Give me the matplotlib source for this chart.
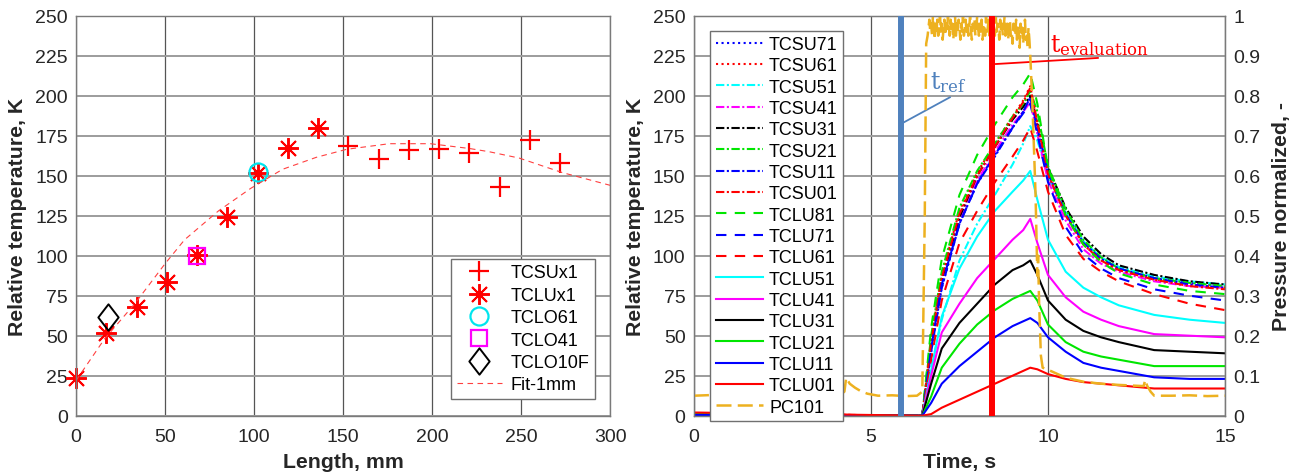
import matplotlib.pyplot as plt
from matplotlib.path import Path
import numpy as np

plt.rcParams['font.family'] = ['Liberation Sans', 'DejaVu Sans']
plt.rcParams['mathtext.fontset'] = 'dejavuserif'

# ---- left panel: temperature rise along the length ----
pos_su = [153, 170, 187, 204, 221, 238, 255, 272]
temp_su = [168.7, 160.2, 166.0, 166.6, 164.3, 143.2, 172.2, 158.1]
pos_lu = [0, 17, 34, 51, 68, 85, 102, 119, 136]
temp_lu = [23.6, 51.5, 67.7, 83.6, 100.4, 124.0, 151.9, 167.0, 180.0]
pos_lo61, temp_lo61 = [102], [152]
pos_lo41, temp_lo41 = [68], [100]
pos_lo10f, temp_lo10f = [18], [62]
fit_x = [0, 16, 33, 50, 61, 80, 98, 116, 135, 152, 176, 199, 221, 232, 249, 273, 300]
fit_y = [22, 48, 70, 95, 110, 128, 142, 154, 161.5, 166.5, 170, 170, 167, 165, 161, 152, 144]

# ---- right panel: thermocouple traces over time ----
t = [0, 6.45, 6.7, 7.0, 7.5, 8.0, 8.5, 9.0, 9.3, 9.5, 9.7, 10.0, 10.5, 11.0, 11.5, 12.0, 13.0, 14.0, 15.0]
tcsu71 = [0.5, 0, 40, 80, 120, 146, 163, 180, 190, 199, 178, 150, 126, 108, 98, 92, 86, 83, 81]
tcsu61 = [1.5, 0, 48, 88, 128, 152, 170, 187, 197, 206, 182, 152, 126, 107, 97, 91, 85, 82, 80]
tcsu51 = [0.5, 0, 30, 60, 97, 120, 138, 157, 170, 181, 172, 150, 127, 109, 99, 93, 87, 84, 82]
tcsu41 = [0.5, 0, 42, 82, 122, 147, 165, 182, 190, 196, 176, 147, 122, 104, 95, 90, 84, 81, 80]
tcsu31 = [0.5, 0, 45, 85, 124, 150, 168, 185, 193, 200, 183, 155, 130, 112, 101, 94, 88, 84, 82]
tcsu21 = [0.5, 0, 50, 90, 130, 153, 170, 187, 195, 203, 190, 156, 129, 110, 99, 92, 86, 83, 81]
tcsu11 = [0.5, 0, 40, 80, 120, 145, 162, 180, 190, 199, 180, 152, 126, 108, 98, 92, 86, 82, 80]
tcsu01 = [1.5, 0, 46, 86, 126, 150, 168, 186, 196, 205, 183, 151, 125, 107, 97, 91, 85, 81, 79]
tclu81 = [0.5, 0, 55, 98, 138, 163, 182, 199, 207, 214, 195, 155, 125, 107, 96, 89, 82, 78, 76]
tclu71 = [0.5, 0, 42, 82, 120, 145, 163, 180, 189, 195, 176, 146, 118, 101, 92, 86, 79, 75, 72]
tclu61 = [1.5, 0, 35, 72, 108, 128, 146, 162, 172, 180, 165, 140, 113, 98, 90, 84, 76, 70, 66]
tclu51 = [0.5, 0, 28, 62, 92, 112, 128, 140, 147, 153, 135, 110, 90, 80, 74, 69, 63, 60, 58]
tclu41 = [0.5, 0, 25, 52, 70, 86, 98, 110, 116, 123, 108, 88, 74, 65, 60, 56, 51, 50, 49]
tclu31 = [0.5, 0, 20, 42, 58, 70, 82, 91, 94, 97, 88, 72, 60, 53, 49, 46, 41, 40, 39]
tclu21 = [1.0, 0, 12, 30, 45, 57, 66, 73, 76, 78, 72, 57, 46, 40, 37, 35, 31, 31, 31]
tclu11 = [0.5, 0, 8, 20, 31, 40, 49, 56, 59, 61, 58, 49, 40, 33, 30, 28, 24, 23, 23]
tclu01 = [2.0, 0, 1, 5, 10, 15, 20, 25, 28, 30, 29, 26, 23, 21, 20, 19, 17, 17, 17]

# normalized pressure PC101: low level, plateau (sampled every 25 ms), decay
pc_t_pre = [0, 0.6, 1.2, 1.8, 2.4, 3.0, 3.6, 4.1, 4.25, 4.3, 4.4, 4.55, 4.7, 4.9, 5.2, 5.6, 6.0, 6.3, 6.45, 6.52, 6.56]
pc_pre = [0.05, 0.052, 0.049, 0.051, 0.05, 0.052, 0.05, 0.051, 0.06, 0.095, 0.08, 0.07, 0.062, 0.055, 0.05, 0.051, 0.049, 0.05, 0.06, 0.5, 0.93]
pc_plateau = [0.95, 0.97, 0.99, 0.96, 0.98, 0.95, 1.0, 0.97, 0.94, 0.98,
              0.96, 0.99, 0.95, 0.97, 1.0, 0.96, 0.98, 0.94, 0.97, 0.99,
              0.95, 0.98, 0.96, 1.0, 0.97, 0.95, 0.99, 0.96, 0.98, 0.94,
              0.97, 1.0, 0.95, 0.98, 0.96, 0.99, 0.97, 0.94, 0.98, 0.96,
              1.0, 0.95, 0.97, 0.99, 0.96, 0.98, 0.95, 0.97, 1.0, 0.96,
              0.94, 0.98, 0.97, 0.99, 0.95, 0.96, 1.0, 0.97, 0.95, 0.98,
              0.96, 0.99, 0.94, 0.97, 0.98, 0.95, 1.0, 0.96, 0.97, 0.99,
              0.95, 0.98, 0.96, 0.94, 0.99, 0.97, 0.95, 1.0, 0.96, 0.98,
              0.97, 0.94, 0.99, 0.96, 0.98, 0.95, 0.97, 1.0, 0.95, 0.96,
              0.98, 0.94, 0.97, 0.99, 0.95, 0.96, 0.93, 0.98, 0.96, 0.95,
              0.99, 0.94, 0.97, 0.96, 0.92, 0.98, 0.95, 0.97, 0.93, 0.96,
              0.99, 0.94, 0.95, 0.92, 0.97, 0.94]
pc_t_post = [9.5, 9.55, 9.6, 9.65, 9.7, 9.72, 9.75, 9.8, 9.85, 10.0, 10.5, 11.0, 11.5, 12.0, 12.5, 12.7, 12.75, 12.8, 12.9, 13.0, 13.5, 14.0, 14.5, 15.0]
pc_post = [0.9, 0.8, 0.68, 0.55, 0.35, 0.4, 0.28, 0.15, 0.12, 0.115, 0.095, 0.085, 0.08, 0.077, 0.075, 0.074, 0.09, 0.075, 0.06, 0.05, 0.05, 0.051, 0.049, 0.05]

t_ref = 5.85
t_eval = 8.42

fig = plt.figure(figsize=(13, 4.77), dpi=100)

tick_col = '#262626'
spine_col = '#7a7a7a'


def style_axes(ax):
    ax.set_axisbelow(True)
    ax.yaxis.grid(True, color='#9c9c9c', lw=1.4)
    ax.xaxis.grid(True, color='#555555', lw=0.9)
    for s in ax.spines.values():
        s.set_color(spine_col)
        s.set_linewidth(1.0)
    ax.tick_params(length=0, labelsize=14, colors=tick_col, pad=6)
    ax.tick_params(axis='x', pad=9)


# ---------------- left ----------------
ax1 = fig.add_axes([0.0585, 0.1264, 0.4108, 0.8386])
diamond = Path([(0, 1), (0.77, 0), (0, -1), (-0.77, 0), (0, 1)],
               [Path.MOVETO, Path.LINETO, Path.LINETO, Path.LINETO, Path.CLOSEPOLY])

ax1.plot(pos_su, temp_su, ls='none', marker='+', ms=15, mew=1.6, color='red', label='TCSUx1', clip_on=False)
ax1.plot(pos_lu, temp_lu, ls='none', marker=(8, 2, 0), ms=15, mew=1.4, color='red', label='TCLUx1', clip_on=False)
ax1.plot(pos_lo61, temp_lo61, ls='none', marker='o', ms=13, mew=1.6, mfc='none', color='#00e5ee', label='TCLO61')
ax1.plot(pos_lo41, temp_lo41, ls='none', marker='s', ms=12, mew=1.6, mfc='none', color='#ff00ff', label='TCLO41')
ax1.plot(pos_lo10f, temp_lo10f, ls='none', marker=diamond, ms=19, mew=1.4, mfc='none', color='black', label='TCLO10F')
ax1.plot(fit_x, fit_y, ls=(0, (5, 4)), lw=0.8, color='#ff4040', label='Fit-1mm')

ax1.set_xlim(0, 300)
ax1.set_ylim(0, 250)
ax1.set_xticks(range(0, 301, 50))
ax1.set_yticks(range(0, 251, 25))
style_axes(ax1)
ax1.set_xlabel('Length, mm', fontsize=15.3, fontweight='bold', color=tick_col, labelpad=5)
ax1.set_ylabel('Relative temperature, K', fontsize=15.3, fontweight='bold', color=tick_col, labelpad=6)
leg1 = ax1.legend(loc='lower right', bbox_to_anchor=(0.972, 0.042), fontsize=13,
                  fancybox=False, framealpha=1, edgecolor='#707070', borderpad=0.3,
                  labelspacing=0.3, handlelength=2.5, handletextpad=0.5, borderaxespad=0)
leg1.get_frame().set_linewidth(1.0)

# ---------------- right ----------------
ax = fig.add_axes([0.5338, 0.1264, 0.4085, 0.8386])
ax2 = ax.twinx()

dd = (0, (4, 1.2, 1, 1.2))
ld = (0, (5, 4))
series = [
    ('TCSU71', tcsu71, '#0000ff', ':'),
    ('TCSU61', tcsu61, '#ff0000', ':'),
    ('TCSU51', tcsu51, '#00ffff', dd),
    ('TCSU41', tcsu41, '#ff00ff', dd),
    ('TCSU31', tcsu31, '#000000', dd),
    ('TCSU21', tcsu21, '#00e600', dd),
    ('TCSU11', tcsu11, '#0000ff', dd),
    ('TCSU01', tcsu01, '#ff0000', dd),
    ('TCLU81', tclu81, '#00e600', ld),
    ('TCLU71', tclu71, '#0000ff', ld),
    ('TCLU61', tclu61, '#ff0000', ld),
    ('TCLU51', tclu51, '#00ffff', '-'),
    ('TCLU41', tclu41, '#ff00ff', '-'),
    ('TCLU31', tclu31, '#000000', '-'),
    ('TCLU21', tclu21, '#00e600', '-'),
    ('TCLU11', tclu11, '#0000ff', '-'),
    ('TCLU01', tclu01, '#ff0000', '-'),
]
handles = []
for name, vals, col, ls in series:
    h, = ax.plot(t, vals, color=col, ls=ls, lw=1.5, label=name)
    handles.append(h)

pc_t = pc_t_pre + list(9.475 - 0.025 * np.arange(len(pc_plateau))[::-1]) + pc_t_post
pc = pc_pre + pc_plateau + pc_post
hp, = ax2.plot(pc_t, pc, color='#edb120', ls=(0, (6, 2.5)), lw=1.8, label='PC101')
handles.append(hp)

ax2.axvline(t_ref, color='#4f81bd', lw=4.3, zorder=3)
ax2.axvline(t_eval, color='#ff0000', lw=4.3, zorder=3)

ax.plot([5.9, 7.23], [183, 199], color='#4f81bd', lw=1.3, zorder=4)
ax.text(6.67, 205, r'$\mathrm{t_{ref}}$', color='#4f81bd', fontsize=17, ha='left', va='baseline')
ax.plot([8.53, 11.41], [219.8, 223.6], color='#ff0000', lw=1.3, zorder=4)
ax.text(10.06, 228, r'$\mathrm{t_{evaluation}}$', color='#ff0000', fontsize=17, ha='left', va='baseline')

ax.set_xlim(0, 15)
ax.set_ylim(0, 250)
ax.set_xticks([0, 5, 10, 15])
ax.set_yticks(range(0, 251, 25))
style_axes(ax)
ax2.set_ylim(0, 1)
ax2.set_yticks(np.linspace(0, 1, 11))
ax2.set_yticklabels(['0', '0.1', '0.2', '0.3', '0.4', '0.5', '0.6', '0.7', '0.8', '0.9', '1'])
ax2.tick_params(length=0, labelsize=14, colors=tick_col, pad=6)
for s in ax2.spines.values():
    s.set_color(spine_col)

ax.set_xlabel('Time, s', fontsize=15.3, fontweight='bold', color=tick_col, labelpad=5)
ax.set_ylabel('Relative temperature, K', fontsize=15.3, fontweight='bold', color=tick_col, labelpad=6)
ax2.set_ylabel('Pressure normalized, -', fontsize=15.3, fontweight='bold', color=tick_col, labelpad=8)

leg = ax2.legend(handles=handles, loc='upper left', bbox_to_anchor=(0.031, 0.9625), fontsize=13,
                 fancybox=False, framealpha=1, edgecolor='#707070', borderpad=0.3,
                 labelspacing=0.24, handlelength=2.6, handletextpad=0.35, borderaxespad=0)
leg.get_frame().set_linewidth(1.0)
leg.set_zorder(5)

plt.savefig('out.png', dpi=100)
